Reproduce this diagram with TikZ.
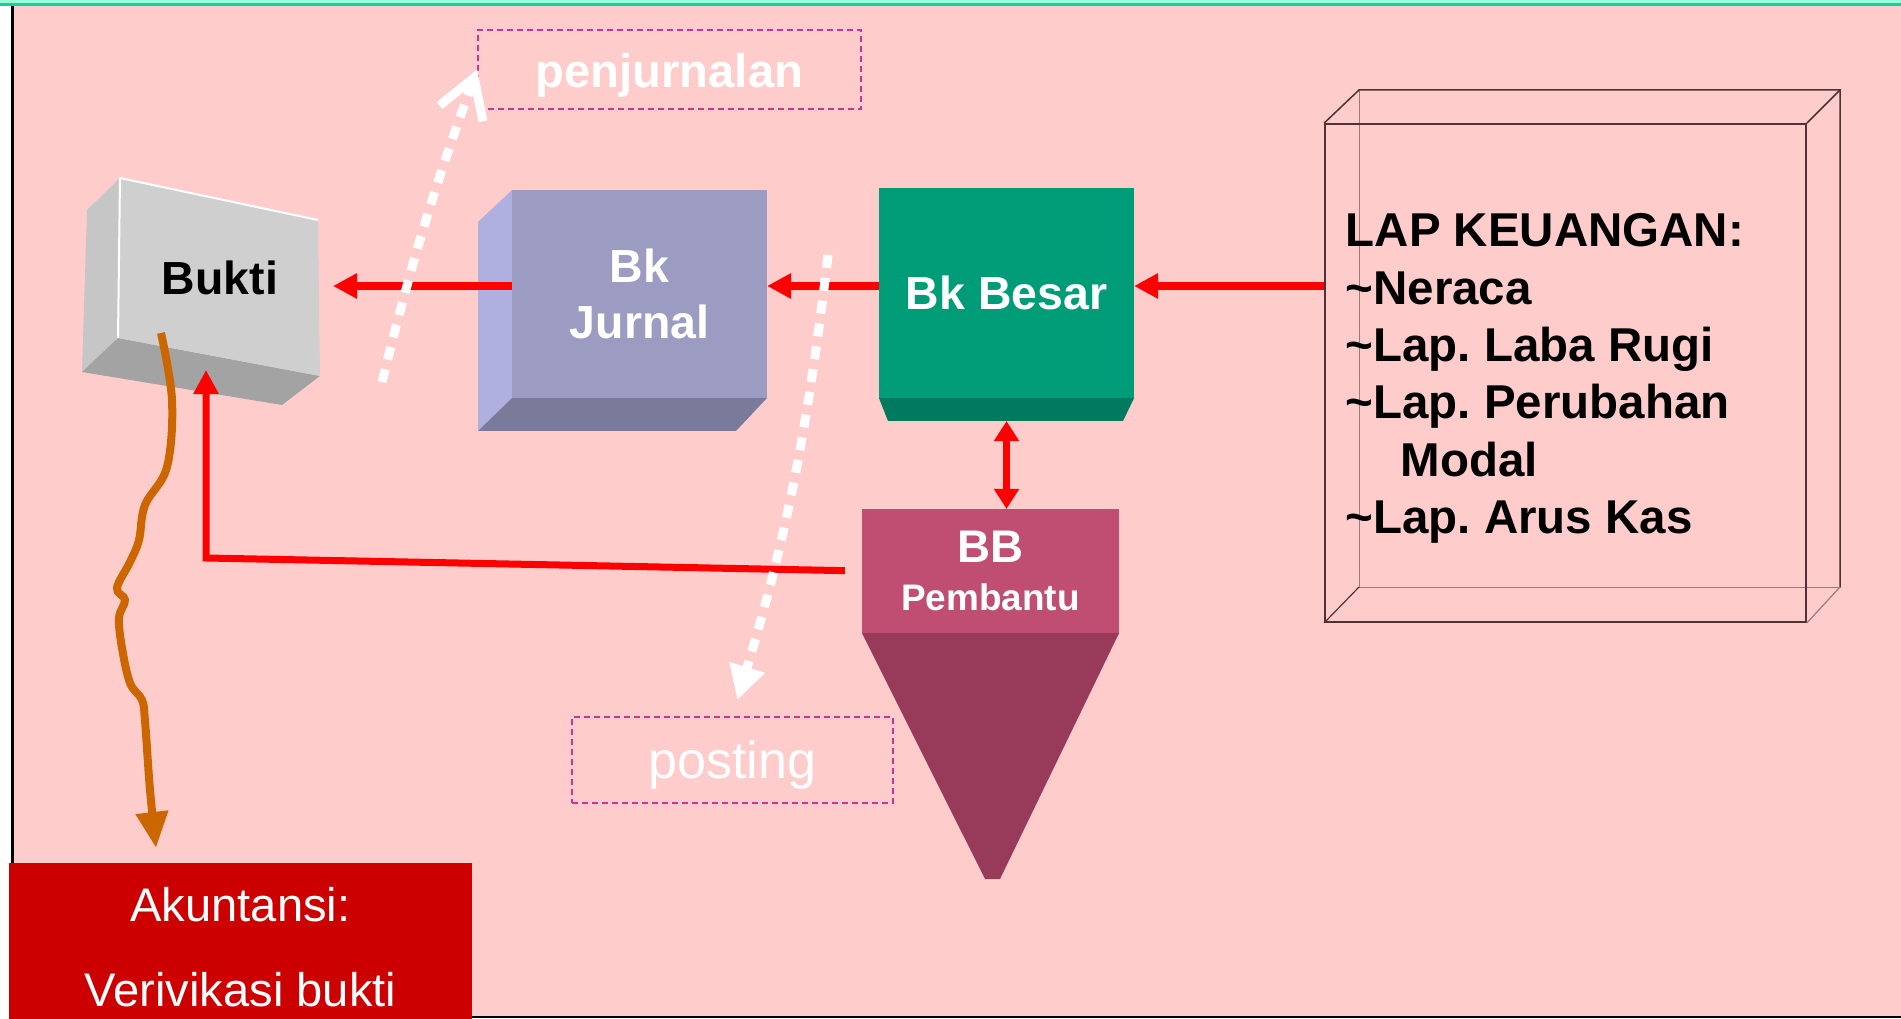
\documentclass[tikz,border=0pt]{standalone}
\usepackage{fontspec}
\setmainfont{Liberation Sans}
\usetikzlibrary{arrows.meta}
\frenchspacing

\definecolor{bgpink}{HTML}{FFCCCC}
\definecolor{topteal}{HTML}{99FFD6}
\definecolor{topgreen}{HTML}{1ACC96}
\definecolor{buktifront}{HTML}{CFCFCF}
\definecolor{buktiside}{HTML}{C6C6C6}
\definecolor{buktibottom}{HTML}{A3A3A3}
\definecolor{jurnalfront}{HTML}{9C9CC2}
\definecolor{jurnalside}{HTML}{B0B0E0}
\definecolor{jurnalbottom}{HTML}{7A7A9A}
\definecolor{besarfront}{HTML}{009B77}
\definecolor{besarbottom}{HTML}{007A5E}
\definecolor{bbfront}{HTML}{C04E72}
\definecolor{bbfunnel}{HTML}{983B5A}
\definecolor{akunred}{HTML}{CC0000}
\definecolor{arrowred}{HTML}{FF0000}
\definecolor{verifyorange}{HTML}{CC6600}
\definecolor{labelpink}{HTML}{CC3399}
\definecolor{wiredark}{HTML}{4D3333}
\definecolor{wirelight}{HTML}{9A7A7A}

\begin{document}
\begin{tikzpicture}[x=0.01cm,y=-0.01cm,
  boxlabel/.style={font=\fontsize{13.2}{16}\selectfont\bfseries,align=center,text=white,inner sep=0,outer sep=0},
  labelbox/.style={draw=labelpink,line width=0.015cm,dash pattern=on 0.06cm off 0.04cm,text=white,inner sep=0,text depth=0cm},
  redarrow/.style={arrowred,line width=0.08cm,-{Triangle[length=0.24cm,width=0.24cm]}},
  whitedash/.style={white,line width=0.09cm,dash pattern=on 0.13cm off 0.1cm}]
\useasboundingbox (0,0) rectangle (1901,1019);
\fill [bgpink] (13,5) rectangle (1901,1016);
\fill [topteal] (0,0) rectangle (1901,3.5);
\fill [topgreen] (0,3.5) rectangle (1901,6);
\draw [line width=0.02cm] (12.5,6) -- (12.5,1019);
\draw [line width=0.02cm] (12,1016.5) -- (1901,1016.5);

\fill [buktiside] (87,210) -- (120,178) -- (118,338) -- (82,372) -- cycle;
\fill [buktibottom] (82,372) -- (118,338) -- (320,376) -- (282,405) -- cycle;
\fill [buktifront] (120,178) -- (318,220) -- (320,376) -- (118,338) -- cycle;
\draw [white,line width=0.02cm] (118,338) -- (120,178) -- (318,220);
\node (bukti) at (220,278) [boxlabel,text=black,minimum width=2cm,minimum height=1.6cm] {Bukti};

\fill [jurnalside] (478,222) -- (512,190) -- (512,398) -- (478,431) -- cycle;
\fill [jurnalbottom] (478,431) -- (512,398) -- (767,398) -- (736,431) -- cycle;
\node (jurnal) at (639.5,294) [boxlabel,fill=jurnalfront,minimum width=2.55cm,minimum height=2.08cm] {Bk\\Jurnal};

\node (besar) at (1006.5,293) [boxlabel,fill=besarfront,minimum width=2.55cm,minimum height=2.1cm] {Bk Besar};
\fill [besarbottom] (besar.south west) -- (besar.south east) -- (1123,421) -- (888,421) -- cycle;

\node (bb) at (990.5,571) [boxlabel,fill=bbfront,minimum width=2.57cm,minimum height=1.24cm,
  font=\fontsize{13}{13.7}\selectfont\bfseries] {BB\\{\fontsize{10.5}{12}\selectfont Pembantu}};
\fill [bbfunnel] (bb.south west) -- (bb.south east) -- (1000,879) -- (985,879) -- cycle;

\draw [wirelight,line width=0.01cm] (1359,90) rectangle (1840,587);
\node (lap) at (1565.5,373) [draw=wiredark,line width=0.015cm,minimum width=4.81cm,minimum height=4.98cm] {};
\draw [wiredark,line width=0.015cm] (lap.north west) -- (1359,90) -- (1840,90) -- (1840,587);
\draw [wiredark,line width=0.015cm] (lap.north east) -- (1840,90);
\draw [wirelight,line width=0.012cm] (lap.south east) -- (1840,587);
\draw [wiredark,line width=0.012cm] (lap.south west) -- (1359,587);
\node (laptext) at (1345,213) [anchor=north west,inner sep=0,align=left,
  font=\fontsize{13.5}{16.3}\selectfont\bfseries] {LAP KEUANGAN:\\\textasciitilde Neraca\\\textasciitilde Lap. Laba Rugi\\\textasciitilde Lap. Perubahan\\\hspace*{0.55cm}Modal\\\textasciitilde Lap. Arus Kas};

\node (penj) at (669.5,69.5) [labelbox,minimum width=3.83cm,minimum height=0.79cm,text height=0.35cm,
  font=\fontsize{13.4}{16}\selectfont\bfseries] {penjurnalan};
\node (post) at (732.5,760) [labelbox,minimum width=3.21cm,minimum height=0.86cm,text height=0.36cm,
  font=\fontsize{14.8}{16}\selectfont] {posting};

\node (akun) at (240.5,947.5) [fill=akunred,text=white,minimum width=4.63cm,minimum height=1.69cm,
  align=center,font=\fontsize{13.4}{24.2}\selectfont] {Akuntansi:\\Verivikasi bukti};

\coordinate (axis) at (0,286);
\coordinate (corner) at (206,558);
\coordinate (buktiin) at (206,370);
\coordinate (penjstart) at (382,382);
\coordinate (poststart) at (828,255);

\draw [redarrow,shorten >=0.13cm] (jurnal.west |- axis) -- (bukti.east |- axis);
\draw [redarrow] (besar.west |- axis) -- (jurnal.east |- axis);
\draw [redarrow] (lap.west |- axis) -- (besar.east |- axis);
\draw [arrowred,line width=0.07cm,{Triangle[length=0.2cm,width=0.24cm]}-{Triangle[length=0.2cm,width=0.24cm]}]
  ([yshift=-0.23cm]besar.south) -- (besar.south |- bb.north);
\draw [redarrow,line width=0.07cm,shorten <=0.17cm] (bb.west) -- (corner) -- (buktiin);

\draw [verifyorange,line width=0.08cm,-{Triangle[length=0.36cm,width=0.31cm]}]
  plot [smooth,tension=0.6] coordinates {(161,333) (172,400) (167,467) (145,505) (139,540) (130,562)
  (117,588) (125,600) (119,618) (122,648) (130,683) (142,700) (145,721) (150,790) (156,848)};

\draw [whitedash,-{Straight Barb[length=0.38cm,width=0.46cm]}] (penjstart) to [bend left=3] (penj.west);
\draw [whitedash,shorten >=0.17cm,-{Triangle[length=0.34cm,width=0.35cm]}] (poststart) to [bend left=5] (post.north);
\end{tikzpicture}
\end{document}
